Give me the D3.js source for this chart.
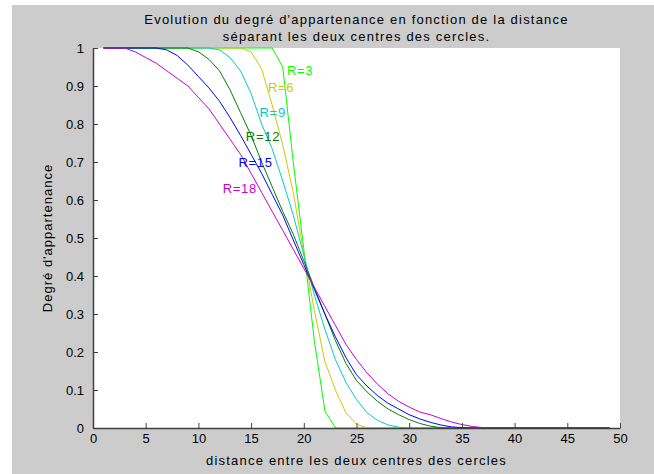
<!DOCTYPE html>
<html>
<head>
<meta charset="utf-8">
<script src="https://cdn.jsdelivr.net/npm/d3@7"></script>
<style>
  body { margin: 0; background: #fff; }
  svg { display: block; }
  text { font-family: "Liberation Sans", Arial, sans-serif; }
</style>
</head>
<body>
<div id="chart"></div>
<script>
// distance between the two circle centres (sample points)
const xs = [1, 2, 3, 4, 5, 6, 7, 8, 9, 10, 11, 12, 13, 14, 15, 16, 17, 18, 19, 20,
  21, 22, 23, 24, 25, 26, 27, 28, 29, 30, 31, 32, 33, 34, 35, 36, 37, 38, 39, 40,
  41, 42, 43, 44, 45, 46, 47, 48, 49];

// membership degree for each radius
const r3 = [1, 1, 1, 1, 1, 1, 1, 1, 1, 1, 1, 1, 1, 1, 1, 1, 1, 0.95, 0.70, 0.47,
  0.23, 0.045, 0, 0, 0, 0, 0, 0, 0, 0, 0, 0, 0, 0, 0, 0, 0, 0, 0, 0,
  0, 0, 0, 0, 0, 0, 0, 0, 0];
const r6 = [1, 1, 1, 1, 1, 1, 1, 1, 1, 1, 1, 1, 1, 1, 0.99, 0.945, 0.85, 0.745, 0.62, 0.46,
  0.31, 0.175, 0.10, 0.04, 0.01, 0, 0, 0, 0, 0, 0, 0, 0, 0, 0, 0, 0, 0, 0, 0,
  0, 0, 0, 0, 0, 0, 0, 0, 0];
const r9 = [1, 1, 1, 1, 1, 1, 1, 1, 1, 1, 1, 0.995, 0.975, 0.94, 0.88, 0.80, 0.735, 0.65, 0.56, 0.455,
  0.35, 0.26, 0.18, 0.12, 0.075, 0.04, 0.02, 0.008, 0.002, 0, 0, 0, 0, 0, 0, 0, 0, 0, 0, 0,
  0, 0, 0, 0, 0, 0, 0, 0, 0];
const r12 = [1, 1, 1, 1, 1, 1, 1, 1, 1, 0.99, 0.97, 0.94, 0.89, 0.83, 0.77, 0.70, 0.635, 0.57, 0.51, 0.44,
  0.37, 0.30, 0.23, 0.17, 0.125, 0.095, 0.07, 0.05, 0.035, 0.022, 0.012, 0.005, 0.001, 0, 0, 0, 0, 0, 0, 0,
  0, 0, 0, 0, 0, 0, 0, 0, 0];
const r15 = [1, 1, 1, 1, 1, 1, 0.995, 0.98, 0.955, 0.925, 0.895, 0.86, 0.817, 0.77, 0.72, 0.67, 0.615, 0.56, 0.495, 0.43,
  0.365, 0.30, 0.24, 0.185, 0.14, 0.11, 0.085, 0.065, 0.05, 0.035, 0.024, 0.015, 0.008, 0.003, 0.001, 0, 0, 0, 0, 0,
  0, 0, 0, 0, 0, 0, 0, 0, 0];
const r18 = [1, 1, 1, 0.99, 0.975, 0.96, 0.94, 0.92, 0.90, 0.87, 0.84, 0.80, 0.76, 0.72, 0.67, 0.62, 0.57, 0.52, 0.47, 0.42,
  0.37, 0.32, 0.27, 0.22, 0.18, 0.145, 0.115, 0.09, 0.07, 0.055, 0.042, 0.035, 0.025, 0.016, 0.009, 0.004, 0.001, 0, 0, 0,
  0, 0, 0, 0, 0, 0, 0, 0, 0];

const seriesNames = ['R=3', 'R=6', 'R=9', 'R=12', 'R=15', 'R=18'];
const seriesValues = [r3, r6, r9, r12, r15, r18];
// where each "R=..." text sits, in data units
const labelX = [18.4, 16.6, 15.8, 14.5, 13.8, 12.3];
const labelY = [0.94, 0.895, 0.83, 0.767, 0.70, 0.63];

const xTicks = [0, 5, 10, 15, 20, 25, 30, 35, 40, 45, 50];
const yTicks = [0, 0.1, 0.2, 0.3, 0.4, 0.5, 0.6, 0.7, 0.8, 0.9, 1];
const yTickLabels = ['0', '0.1', '0.2', '0.3', '0.4', '0.5', '0.6', '0.7', '0.8', '0.9', '1'];

const colors = ['#00ff00', '#cccc00', '#00cccc', '#008000', '#0000ff', '#cc00cc'];

const width = 654, height = 474;
const margin = { top: 48, right: 34, bottom: 46, left: 93 };

const svg = d3.select('#chart').append('svg')
  .attr('width', width)
  .attr('height', height);

// figure background
svg.append('rect')
  .attr('x', 12).attr('y', 5)
  .attr('width', width - 12).attr('height', height - 5)
  .attr('fill', '#cccccc');

const x = d3.scaleLinear().domain([0, 50]).range([margin.left, width - margin.right]);
const y = d3.scaleLinear().domain([0, 1]).range([height - margin.bottom, margin.top]);

svg.append('rect')
  .attr('x', x(0)).attr('y', y(1))
  .attr('width', x(50) - x(0)).attr('height', y(0) - y(1))
  .attr('fill', '#fff');

const line = d3.line()
  .x((d, i) => x(xs[i]))
  .y(d => y(d));

seriesValues.forEach((vals, k) => {
  svg.append('path')
    .datum(vals)
    .attr('fill', 'none')
    .attr('stroke', colors[k])
    .attr('stroke-width', 1)
    .attr('d', line);
});

seriesNames.forEach((name, k) => {
  svg.append('text')
    .attr('x', x(labelX[k]))
    .attr('y', y(labelY[k]))
    .attr('dominant-baseline', 'central')
    .attr('font-size', 13)
    .attr('letter-spacing', 0.7)
    .attr('fill', colors[k])
    .text(name);
});

// axes (ticks point inwards, MATLAB style)
const xAxis = svg.append('g')
  .attr('transform', `translate(0,${y(0)})`)
  .call(d3.axisBottom(x).tickValues(xTicks).tickSizeInner(-5).tickSizeOuter(0).tickPadding(6));

const yAxis = svg.append('g')
  .attr('transform', `translate(${x(0)},0)`)
  .call(d3.axisLeft(y).tickValues(yTicks).tickSizeInner(-5).tickSizeOuter(0).tickPadding(9)
    .tickFormat((d, i) => yTickLabels[i]));

[xAxis, yAxis].forEach(g => {
  g.select('.domain').attr('stroke', '#404040').attr('stroke-width', 1.5);
  g.selectAll('.tick line').attr('stroke', '#404040');
  g.selectAll('.tick text').attr('font-size', 13).attr('fill', '#000')
    .attr('font-family', '"Liberation Sans", Arial, sans-serif');
});

// titles
const cx = (x(0) + x(50)) / 2;
svg.append('text')
  .attr('x', cx).attr('y', 24)
  .attr('text-anchor', 'middle').attr('font-size', 13).attr('letter-spacing', 1.2)
  .text("Evolution du degré d'appartenance en fonction de la distance");
svg.append('text')
  .attr('x', cx).attr('y', 41)
  .attr('text-anchor', 'middle').attr('font-size', 13).attr('letter-spacing', 1.2)
  .text('séparant les deux centres des cercles.');

svg.append('text')
  .attr('x', cx).attr('y', 465)
  .attr('text-anchor', 'middle').attr('font-size', 13).attr('letter-spacing', 1.2)
  .text('distance entre les deux centres des cercles');

svg.append('text')
  .attr('transform', `translate(52,${(y(0) + y(1)) / 2}) rotate(-90)`)
  .attr('text-anchor', 'middle').attr('font-size', 13).attr('letter-spacing', 1)
  .text("Degré d'appartenance");
</script>
</body>
</html>
